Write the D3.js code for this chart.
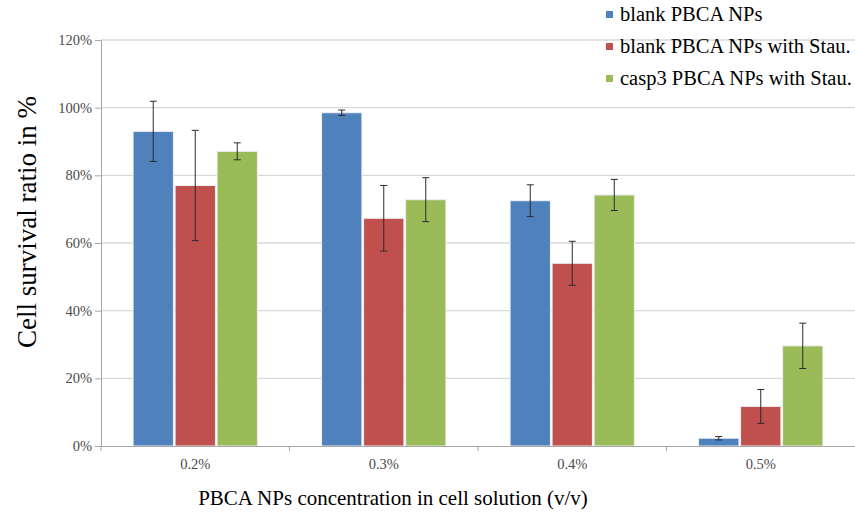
<!DOCTYPE html>
<html>
<head>
<meta charset="utf-8">
<script src="https://cdn.jsdelivr.net/npm/d3@7"></script>
<style>
  html, body { margin: 0; padding: 0; background: #fff; }
  svg { display: block; }
  svg text { font-family: "Liberation Serif", "Times New Roman", serif; }
</style>
</head>
<body>
<svg id="chart" width="855" height="520"></svg>
<script>
// Concentrations of PBCA nanoparticles in the cell solution
const categories = ["0.2%", "0.3%", "0.4%", "0.5%"];
const seriesNames = ["blank PBCA NPs", "blank PBCA NPs with Stau.", "casp3 PBCA NPs with Stau."];
const seriesColors = ["#4F81BD", "#C0504D", "#9BBB59"];

// Mean survival ratio per concentration (fraction of 1)
const blankMeans = [0.93, 0.985, 0.725, 0.023];
const blankStauMeans = [0.77, 0.673, 0.54, 0.117];
const casp3StauMeans = [0.871, 0.728, 0.742, 0.296];

// Standard deviations
const blankErr = [0.089, 0.008, 0.047, 0.005];
const blankStauErr = [0.163, 0.097, 0.065, 0.05];
const casp3StauErr = [0.025, 0.065, 0.046, 0.067];

const yTicks = [0, 0.2, 0.4, 0.6, 0.8, 1.0, 1.2];

const means = [blankMeans, blankStauMeans, casp3StauMeans];
const errs = [blankErr, blankStauErr, casp3StauErr];

const rows = [];
categories.forEach((c, i) => {
  seriesNames.forEach((s, j) => {
    rows.push({ cat: c, series: s, color: seriesColors[j], value: means[j][i], err: errs[j][i] });
  });
});

const svg = d3.select("#chart");
const margin = { left: 101, right: 0, top: 40, bottom: 74 };
const W = 855, H = 520;

const x = d3.scaleBand().domain(categories).range([margin.left, W - margin.right]).padding(0);
const xs = d3.scaleBand().domain(seriesNames).range([0, x.bandwidth()])
  .paddingInner(0.04).paddingOuter(0.764);
const y = d3.scaleLinear().domain([0, 1.2]).range([H - margin.bottom, margin.top]);

// horizontal gridlines
svg.append("g").selectAll("line").data(yTicks.filter(t => t > 0)).join("line")
  .attr("x1", margin.left).attr("x2", W - margin.right)
  .attr("y1", d => y(d)).attr("y2", d => y(d))
  .attr("stroke", "#d9d9d9").attr("stroke-width", 1.3);

// bars
svg.append("g").selectAll("rect").data(rows).join("rect")
  .attr("x", d => x(d.cat) + xs(d.series))
  .attr("y", d => y(d.value))
  .attr("width", xs.bandwidth())
  .attr("height", d => y(0) - y(d.value))
  .attr("fill", d => d.color)
  .attr("stroke", "#eef0f2").attr("stroke-width", 1);

// error bars
const eb = svg.append("g").attr("stroke", "#2b2b2b").attr("stroke-width", 1);
const cx = d => x(d.cat) + xs(d.series) + xs.bandwidth() / 2;
eb.selectAll("line.v").data(rows).join("line").attr("class", "v")
  .attr("x1", cx).attr("x2", cx)
  .attr("y1", d => y(d.value + d.err)).attr("y2", d => y(d.value - d.err));
eb.selectAll("line.t").data(rows).join("line").attr("class", "t")
  .attr("x1", d => cx(d) - 3.5).attr("x2", d => cx(d) + 3.5)
  .attr("y1", d => y(d.value + d.err)).attr("y2", d => y(d.value + d.err));
eb.selectAll("line.b").data(rows).join("line").attr("class", "b")
  .attr("x1", d => cx(d) - 3.5).attr("x2", d => cx(d) + 3.5)
  .attr("y1", d => y(d.value - d.err)).attr("y2", d => y(d.value - d.err));

// y axis
const yAxis = svg.append("g").attr("transform", `translate(${margin.left},0)`)
  .call(d3.axisLeft(y).tickValues(yTicks).tickFormat(d3.format(".0%")).tickSizeOuter(0).tickSize(6).tickPadding(3));
yAxis.select(".domain").attr("stroke", "#a6a6a6");
yAxis.selectAll(".tick line").attr("stroke", "#a6a6a6");
yAxis.selectAll(".tick text").attr("fill", "#4a4a4a").style("font-size", "14.5px");

// x axis
const xAxis = svg.append("g").attr("transform", `translate(0,${y(0)})`)
  .call(d3.axisBottom(x).tickSize(0).tickPadding(13));
xAxis.select(".domain").attr("stroke", "#a6a6a6");
xAxis.selectAll(".tick text").attr("fill", "#4a4a4a").style("font-size", "14.5px");
// boundary tick marks between categories
xAxis.append("g").selectAll("line").data(categories.slice(1)).join("line")
  .attr("x1", d => x(d)).attr("x2", d => x(d)).attr("y1", 0).attr("y2", 5)
  .attr("stroke", "#a6a6a6");
xAxis.append("line").attr("x1", margin.left).attr("x2", margin.left)
  .attr("y1", 0).attr("y2", 5).attr("stroke", "#a6a6a6");

// axis titles
svg.append("text")
  .attr("x", 393).attr("y", 505)
  .attr("text-anchor", "middle").attr("fill", "#000")
  .style("font-size", "21px")
  .text("PBCA NPs concentration in cell solution (v/v)");

svg.append("text")
  .attr("transform", "translate(36,222) rotate(-90)")
  .attr("text-anchor", "middle").attr("fill", "#000")
  .style("font-size", "27px")
  .text("Cell survival ratio in %");

// legend
const legend = svg.append("g").attr("transform", "translate(606,0)");
const li = legend.selectAll("g").data(seriesNames).join("g")
  .attr("transform", (d, i) => `translate(0,${15 + i * 32})`);
li.append("rect").attr("x", 0).attr("y", -4).attr("width", 7).attr("height", 7)
  .attr("fill", (d, i) => seriesColors[i]);
li.append("text").attr("x", 14).attr("y", 6).attr("fill", "#000")
  .style("font-size", "20.5px").text(d => d);
</script>
</body>
</html>
